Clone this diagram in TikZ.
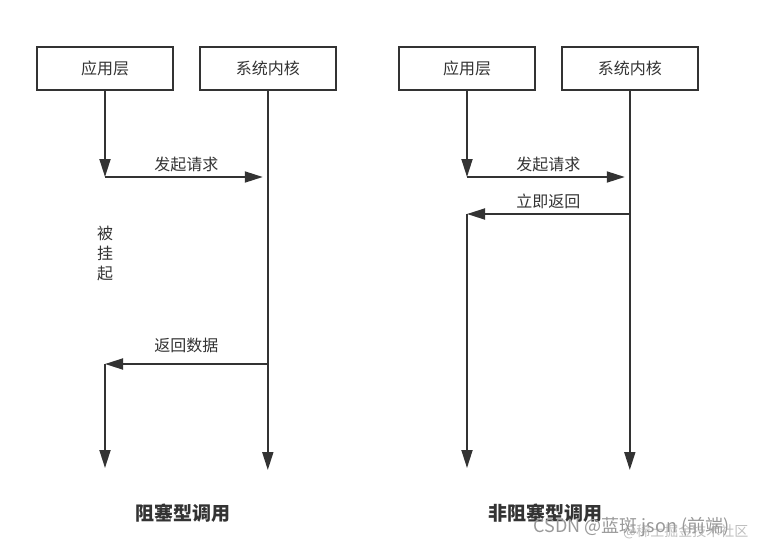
\documentclass[tikz,border=0pt]{standalone}
\usepackage{fontspec}
\setmainfont{Noto Sans CJK SC}
\usepackage{xcolor}
\usetikzlibrary{arrows.meta,positioning}
\definecolor{ink}{HTML}{333333}

\begin{document}
\begin{tikzpicture}[x=1pt, y=1pt,
    node distance=12mm and 25pt,
    layer/.style={draw=ink, line width=1.8pt, minimum width=136pt, minimum height=43pt, inner sep=0pt, text=ink, font=\fontsize{16}{18}\selectfont},
    msg/.style={draw=ink, line width=1.8pt, -{Triangle[length=18pt,width=11pt]}},
    lbl/.style={text=ink, font=\fontsize{16}{18}\selectfont},
    ttl/.style={text=ink, font=\fontsize{19}{22}\selectfont\bfseries},
    wmark/.style={text=black!40, font=\fontsize{18}{20}\selectfont}
  ]
    \useasboundingbox (0,0) rectangle (757,-546);

    % blocking call
    \node[layer] (app1) at (105,-68.5) {应用层};
    \node[layer, right=of app1] (kern1) {系统内核};
    \coordinate (req1) at (app1.south |- 0,-177);
    \coordinate (ret1) at (kern1.south |- 0,-364);
    \coordinate (back1) at (app1.south |- ret1);

    \draw[msg] (app1.south) -- (req1);
    \draw[msg, shorten >=5pt] (req1) -- node[lbl, above=1pt] {发起请求} (req1 -| kern1.south);
    \draw[msg] (kern1.south) -- (kern1.south |- 0,-470);
    \draw[msg] (ret1) -- node[lbl, above=7pt] {返回数据} (back1);
    \draw[msg] (back1) -- (app1.south |- 0,-468);
    \node[lbl, align=center, font=\fontsize{16}{20}\selectfont] (wait1) at (105,-253) {被\\挂\\起};
    \node[ttl] (title1) at (183,-513) {阻塞型调用};

    % non-blocking call
    \node[layer] (app2) at (467,-68.5) {应用层};
    \node[layer, right=of app2] (kern2) {系统内核};
    \coordinate (req2) at (app2.south |- 0,-177);
    \coordinate (ret2) at (kern2.south |- 0,-214);
    \coordinate (back2) at (app2.south |- ret2);

    \draw[msg] (app2.south) -- (req2);
    \draw[msg, shorten >=5pt] (req2) -- node[lbl, above=1pt] {发起请求} (req2 -| kern2.south);
    \draw[msg] (kern2.south) -- (kern2.south |- 0,-470);
    \draw[msg] (ret2) -- node[lbl, above=1pt] {立即返回} (back2);
    \draw[msg] (back2) -- (app2.south |- 0,-468);
    \node[ttl] (title2) at (545,-513) {非阻塞型调用};

    % watermark
    \node[wmark, text=black!25, font=\fontsize{14}{16}\selectfont, anchor=east] (mark2) at (752,-532) {@稀土掘金技术社区};
    \node[wmark, anchor=west] (mark1) at (530,-527) {CSDN @蓝斑 json (前端)};
  \end{tikzpicture}
\end{document}
